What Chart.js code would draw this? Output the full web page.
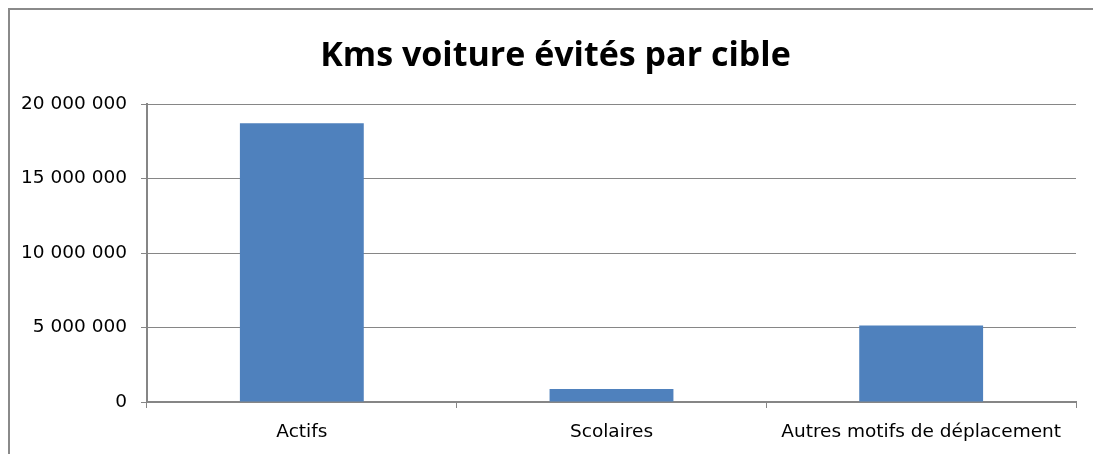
<!DOCTYPE html>
<html>
<head>
<meta charset="utf-8">
<script src="https://cdn.jsdelivr.net/npm/chart.js@4.4.1/dist/chart.umd.min.js"></script>
<style>
  html, body { margin: 0; padding: 0; background: #fff; overflow: hidden; }
  #wrap { position: relative; width: 1093px; height: 454px; }
  #frame { position: absolute; left: 8px; top: 8px; width: 1200px; height: 600px; border-left: 2px solid #8a8a8a; border-top: 2px solid #8a8a8a; box-sizing: border-box; }
  canvas { position: absolute; left: 0; top: 0; }
</style>
</head>
<body>
<div id="wrap">
  <div id="frame"></div>
  <canvas id="c" width="1093" height="454"></canvas>
</div>
<script>
const categories = ["Actifs", "Scolaires", "Autres motifs de déplacement"];
const values = [18700000, 880000, 5140000];
const yTicks = [0, 5000000, 10000000, 15000000, 20000000];
const titleText = "Kms voiture évités par cible";

function fmt(v) {
  return String(Math.round(v)).replace(/\B(?=(\d{3})+(?!\d))/g, " ");
}

const TITLE_FONT = "'Open Sans', sans-serif";
const TICK_FONT = "'DejaVu Sans', sans-serif";

// Title centred on the chart frame (which extends past the right edge)
const frameTitle = {
  id: 'frameTitle',
  afterDraw(chart) {
    const ctx = chart.ctx;
    ctx.save();
    ctx.font = "bold 34px " + TITLE_FONT;
    ctx.fillStyle = '#000';
    ctx.textAlign = 'center';
    ctx.textBaseline = 'middle';
    ctx.fillText(titleText, 555.5, 56);
    ctx.restore();
  }
};

new Chart(document.getElementById('c'), {
  type: 'bar',
  data: {
    labels: categories,
    datasets: [{
      data: values,
      backgroundColor: '#4f81bd',
      borderWidth: 0,
      categoryPercentage: 1.0,
      barPercentage: 0.4
    }]
  },
  plugins: [frameTitle],
  options: {
    responsive: false,
    animation: false,
    layout: { padding: { left: 0, right: 17, top: 104, bottom: 0 } },
    plugins: {
      legend: { display: false },
      tooltip: { enabled: false },
      title: { display: false }
    },
    scales: {
      x: {
        grid: { offset: true, drawOnChartArea: false, color: '#868686', tickLength: 6, lineWidth: 1 },
        border: { color: '#868686', width: 2 },
        ticks: { color: '#000', font: { family: TICK_FONT, size: 18.5 }, padding: 13, maxRotation: 0, autoSkip: false },
        afterFit: s => { s.height = 52; }
      },
      y: {
        min: 0,
        max: 20000000,
        afterBuildTicks: s => { s.ticks = yTicks.map(v => ({ value: v })); },
        grid: { color: '#868686', tickLength: 6, lineWidth: 1 },
        border: { color: '#868686', width: 2 },
        ticks: { color: '#000', font: { family: TICK_FONT, size: 18.5 }, padding: 14, callback: v => fmt(v) },
        afterFit: s => { s.width = 147; s.paddingTop = 0; s.paddingBottom = 0; }
      }
    }
  }
});
</script>
</body>
</html>
